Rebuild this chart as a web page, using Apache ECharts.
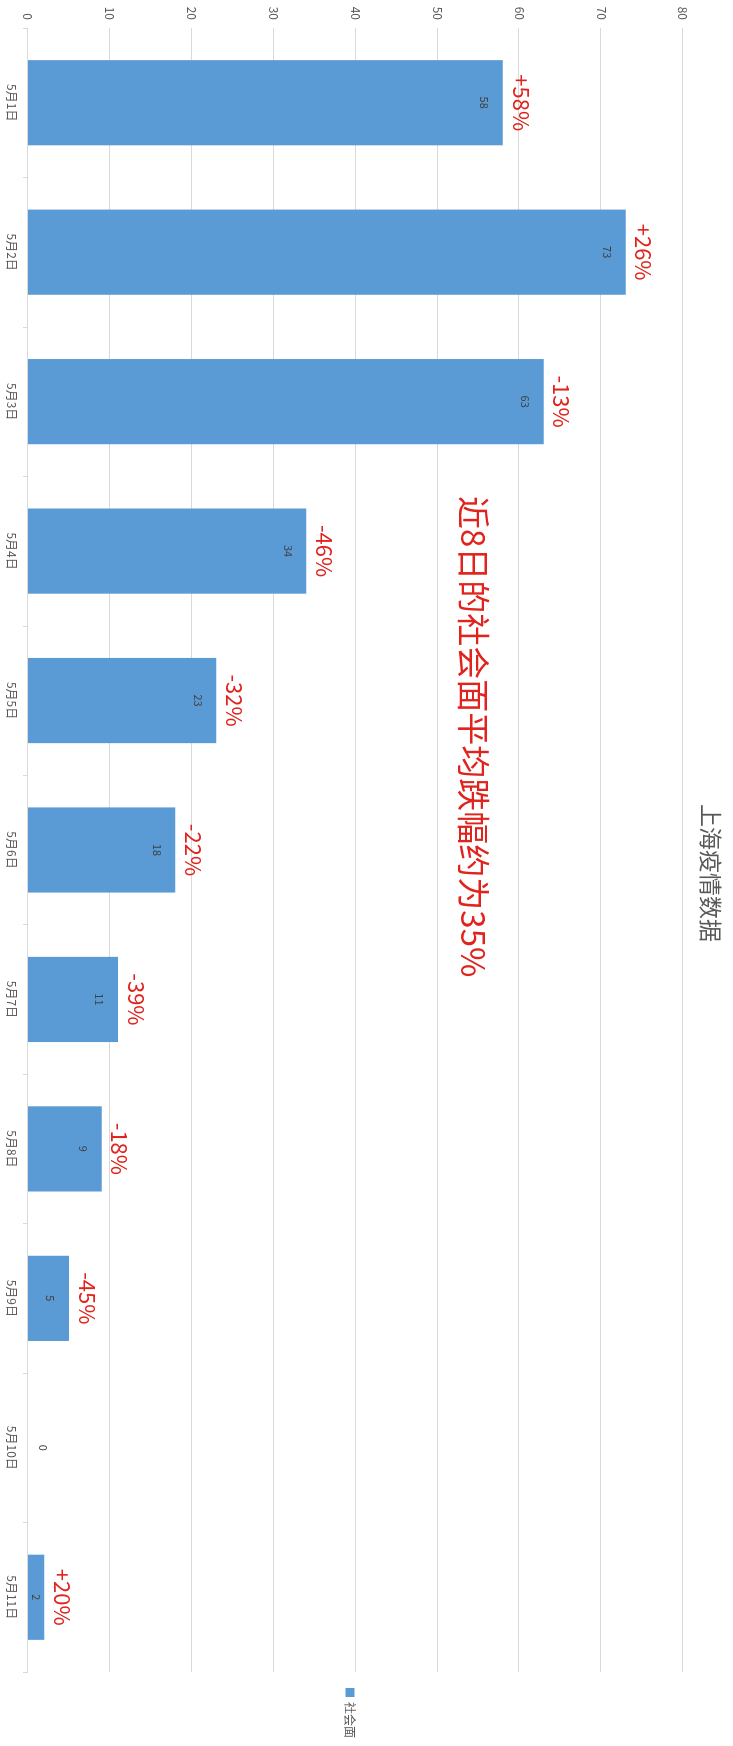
<!DOCTYPE html>
<html>
<head>
<meta charset="utf-8">
<script src="https://cdn.jsdelivr.net/npm/echarts@6/dist/echarts.min.js"></script>
<style>
html,body{margin:0;padding:0;background:#fff;overflow:hidden;width:733px;height:1746px;}
#chart{position:absolute;left:0;top:0;width:1746px;height:733px;transform-origin:0 0;transform:translate(733px,0) rotate(90deg);}
</style>
</head>
<body>
<div id="chart"></div>
<script>
const categories = ['5月1日','5月2日','5月3日','5月4日','5月5日','5月6日','5月7日','5月8日','5月9日','5月10日','5月11日'];
const values = [58, 73, 63, 34, 23, 18, 11, 9, 5, 0, 2];
const changeLabels = ['+58%','+26%','-13%','-46%','-32%','-22%','-39%','-18%','-45%','','+20%'];
const seriesName = '社会面';
const titleText = '上海疫情数据';
const noteText = '近8日的社会面平均跌幅约为35%';

const font = '"Noto Sans CJK SC","Noto Sans",sans-serif';
const barData = values.map(v => v === 0
  ? { value: v, label: { position: 'top', distance: 10 } }
  : (v < 4 ? { value: v, label: { position: 'inside' } } : v));
const chart = echarts.init(document.getElementById('chart'));
chart.setOption({
  animation: false,
  backgroundColor: '#ffffff',
  textStyle: { fontFamily: font },
  title: [
    { text: titleText, left: 'center', top: 6,
      textStyle: { fontSize: 23, fontWeight: 'normal', color: '#595959', fontFamily: font } },
    { text: noteText, left: 491, top: 238,
      textStyle: { fontSize: 33, fontWeight: 'normal', color: '#e0231c', fontFamily: font } }
  ],
  legend: {
    data: [seriesName], orient: 'vertical', right: 3, top: 372,
    icon: 'rect', itemWidth: 9, itemHeight: 9, itemGap: 6,
    textStyle: { fontSize: 12, color: '#595959' }
  },
  grid: { left: 28, right: 74, top: 50, bottom: 28, containLabel: false },
  xAxis: {
    type: 'category', data: categories,
    axisLine: { show: true, lineStyle: { color: '#d9d9d9' } },
    axisTick: { show: true, length: 5, lineStyle: { color: '#d9d9d9' } },
    axisLabel: { color: '#595959', fontSize: 12, margin: 10 }
  },
  yAxis: {
    type: 'value', min: 0, max: 80, interval: 10,
    axisLine: { show: false }, axisTick: { show: false },
    axisLabel: { color: '#595959', fontSize: 12, margin: 8 },
    splitLine: { lineStyle: { color: '#d9d9d9' } }
  },
  series: [
    { name: seriesName, type: 'bar', data: barData, barWidth: '57%',
      itemStyle: { color: '#5b9bd5' },
      label: { show: true, position: 'insideTop', distance: 13, fontSize: 11, color: '#404040' } },
    { name: 'change', type: 'bar', data: values, barWidth: '57%', barGap: '-100%', silent: true,
      itemStyle: { color: 'rgba(0,0,0,0)' },
      label: { show: true, position: 'top', distance: 7, fontSize: 22, color: '#e0231c',
        formatter: p => changeLabels[p.dataIndex] } }
  ]
});
</script>
</body>
</html>
